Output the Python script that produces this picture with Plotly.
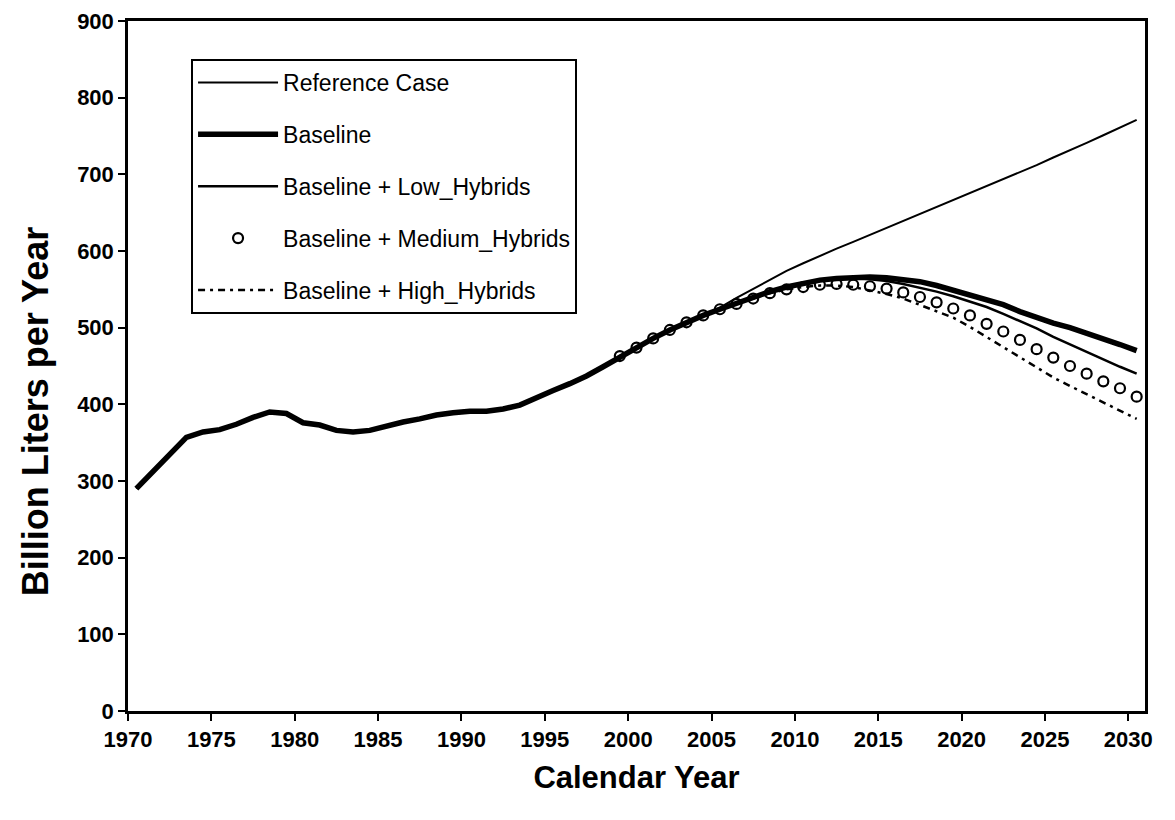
import plotly.graph_objects as go

years = list(range(1970, 2031))
scen_years = list(range(1999, 2031))

history = [290, 312, 334, 357, 364, 367, 374, 383, 390, 388,
           376, 373, 366, 364, 366, 372, 377, 381, 386, 389,
           391, 391, 394, 399, 409, 418, 427, 437, 449, 462,
           474, 486, 497, 507, 516]  # 1970-2004

baseline_future = [524, 532, 540, 547, 553, 558, 562, 564, 565, 566,
                   565, 563, 560, 555, 549, 543, 537, 530, 521, 513,
                   506, 500, 493, 486, 478, 470]  # 2005-2030
reference_future = [526, 539, 551, 563, 574, 584, 594, 603, 612, 621,
                    630, 639, 648, 657, 666, 675, 684, 693, 703, 712,
                    722, 731, 741, 751, 761, 771]  # 2005-2030

baseline = history + baseline_future
reference = history + reference_future

low_hybrids = [462, 474, 486, 497, 507, 516, 524, 532, 540, 547, 553, 558, 562, 564,
               564, 563, 561, 557, 552, 547, 541, 534, 527, 518, 509, 499,
               488, 478, 468, 458, 449, 440]  # 1999-2030
medium_hybrids = [463, 474, 486, 497, 507, 516, 524, 531, 538, 545, 550, 553, 556, 557,
                  556, 554, 551, 546, 540, 533, 525, 516, 505, 495, 484, 472,
                  461, 450, 440, 430, 421, 410]  # 1999-2030
high_hybrids = [463, 474, 486, 497, 507, 516, 524, 531, 538, 545, 550, 553, 555, 555,
                553, 549, 544, 538, 530, 522, 513, 501, 488, 474, 461, 448,
                435, 424, 413, 403, 392, 381]  # 1999-2030

tick_years = list(range(1970, 2031, 5))
y_ticks = list(range(0, 901, 100))

FONT = "Liberation Sans, Arial, sans-serif"

fig = go.Figure()
fig.add_trace(go.Scatter(x=years, y=reference, mode="lines", name="Reference Case",
                         line=dict(color="black", width=2), legendgroup="a"))
fig.add_trace(go.Scatter(x=years, y=baseline, mode="lines", name="Baseline",
                         line=dict(color="black", width=5.5), legendgroup="b"))
fig.add_trace(go.Scatter(x=scen_years, y=low_hybrids, mode="lines", name="Baseline + Low_Hybrids",
                         line=dict(color="black", width=2.5), legendgroup="c"))
fig.add_trace(go.Scatter(x=scen_years, y=medium_hybrids, mode="markers", name="Baseline + Medium_Hybrids",
                         marker=dict(symbol="circle-open", size=10, color="black",
                                     line=dict(width=2.2, color="black")), legendgroup="d"))
fig.add_trace(go.Scatter(x=scen_years, y=high_hybrids, mode="lines", name="Baseline + High_Hybrids",
                         line=dict(color="black", width=2.5, dash="7px,5px,3px,5px"), legendgroup="e"))

fig.update_layout(
    width=1167, height=812,
    paper_bgcolor="white", plot_bgcolor="white",
    margin=dict(l=120, r=30, t=13, b=109, autoexpand=False),
    font=dict(family=FONT, color="black"),
    legend=dict(x=0.062, y=0.945, xanchor="left", yanchor="top",
                bordercolor="black", borderwidth=2, bgcolor="white",
                font=dict(size=23, family=FONT, color="black"),
                itemwidth=80, tracegroupgap=19, traceorder="grouped"),
    xaxis=dict(range=[1969.5, 2030.5], automargin=False,
               tickvals=[y - 0.5 for y in tick_years],
               ticktext=[str(y) for y in tick_years],
               ticks="outside", ticklen=7, tickwidth=1.5, tickcolor="black",
               showline=True, linecolor="black", linewidth=2.5, mirror=True,
               showgrid=False, zeroline=False,
               tickfont=dict(size=22, family=FONT, color="black", weight="bold"),
               title=dict(text="<b>Calendar Year</b>", font=dict(size=31, family=FONT), standoff=16)),
    yaxis=dict(range=[0, 900], tickvals=y_ticks, automargin=False,
               ticks="outside", ticklen=7, tickwidth=1.5, tickcolor="black",
               showline=True, linecolor="black", linewidth=2.5, mirror=True,
               showgrid=False, zeroline=False,
               tickfont=dict(size=22, family=FONT, color="black", weight="bold")),
    annotations=[dict(text="<b>Billion Liters per Year</b>", textangle=-90,
                      xref="paper", yref="paper", x=-0.0914, y=0.433,
                      xanchor="center", yanchor="middle", showarrow=False,
                      font=dict(size=36, family=FONT, color="black"))],
)

fig.write_html("out.html")
